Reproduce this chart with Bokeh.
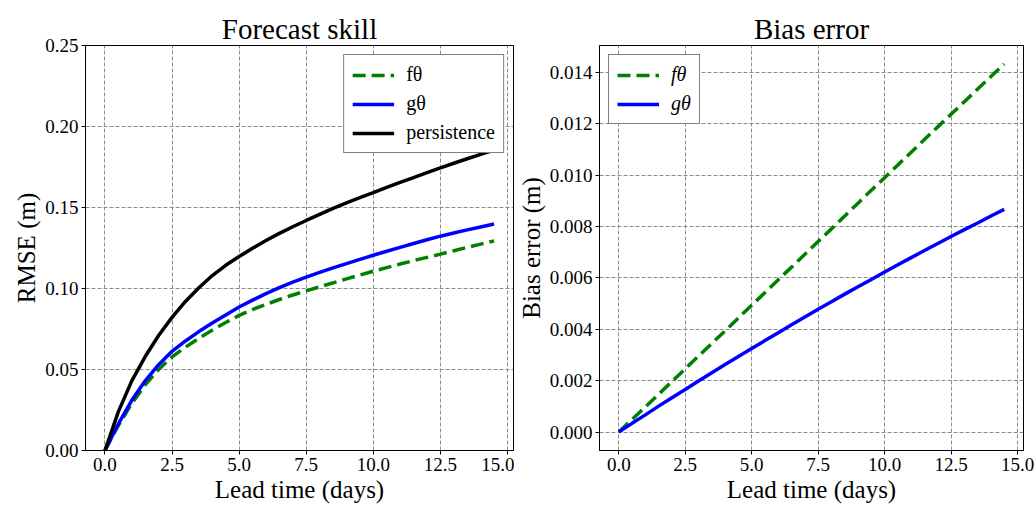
from bokeh.plotting import figure
from bokeh.layouts import row
from bokeh.models import FixedTicker, PrintfTickFormatter, Range1d, Legend, LegendItem
from bokeh.embed import file_html
from bokeh.resources import INLINE

# ---- data ----
lead_time = [0.0, 0.5, 1.0, 1.5, 2.0, 2.5, 3.0, 3.5, 4.0, 4.5,
             5.0, 5.5, 6.0, 6.5, 7.0, 7.5, 8.0, 8.5, 9.0, 9.5,
             10.0, 10.5, 11.0, 11.5, 12.0, 12.5, 13.0, 13.5, 14.0, 14.5]

rmse_f = [0.0, 0.0155, 0.029, 0.0405, 0.0500, 0.0578, 0.0638, 0.0692, 0.0743, 0.0790,
          0.0834, 0.0870, 0.0902, 0.0932, 0.0960, 0.0985, 0.1010, 0.1035, 0.1059, 0.1083,
          0.1107, 0.1129, 0.1151, 0.1172, 0.1192, 0.1212, 0.1233, 0.1254, 0.1274, 0.1294]

rmse_g = [0.0, 0.0165, 0.031, 0.0430, 0.0530, 0.0612, 0.0676, 0.0734, 0.0787, 0.0837,
          0.0886, 0.0928, 0.0968, 0.1005, 0.1039, 0.1070, 0.1099, 0.1127, 0.1154, 0.1180,
          0.1205, 0.1230, 0.1254, 0.1278, 0.1301, 0.1323, 0.1343, 0.1362, 0.1380, 0.1398]

rmse_persistence = [0.0, 0.024, 0.043, 0.0580, 0.0710, 0.0822, 0.0920, 0.1005, 0.1080, 0.1143,
                    0.1197, 0.1248, 0.1296, 0.1340, 0.1381, 0.1420, 0.1458, 0.1495, 0.1529, 0.1561,
                    0.1592, 0.1624, 0.1655, 0.1685, 0.1715, 0.1745, 0.1773, 0.1801, 0.1828, 0.1855]

bias_f = [0.0, 0.00049, 0.00098, 0.00147, 0.00197, 0.00246, 0.00296, 0.00345, 0.00394, 0.00444,
          0.00494, 0.00543, 0.00593, 0.00642, 0.00692, 0.00742, 0.00791, 0.00841, 0.00891, 0.00941,
          0.00990, 0.01040, 0.01089, 0.01139, 0.01188, 0.01237, 0.01286, 0.01335, 0.01384, 0.01433]

bias_g = [0.0, 0.00034, 0.00067, 0.00101, 0.00134, 0.00166, 0.00199, 0.00231, 0.00263, 0.00294,
          0.00325, 0.00356, 0.00387, 0.00418, 0.00448, 0.00478, 0.00507, 0.00537, 0.00566, 0.00594,
          0.00623, 0.00651, 0.00679, 0.00707, 0.00734, 0.00761, 0.00788, 0.00814, 0.00841, 0.00867]

x_ticks = [0.0, 2.5, 5.0, 7.5, 10.0, 12.5, 15.0]
rmse_ticks = [0.0, 0.05, 0.10, 0.15, 0.20, 0.25]
bias_ticks = [0.0, 0.002, 0.004, 0.006, 0.008, 0.010, 0.012, 0.014]

FONT = "Liberation Serif"
GREEN = "#008000"
BLUE = "#0000ff"
BLACK = "#000000"
LW = 3.5


def style(p, yticks, yfmt, ylabel):
    p.title.text_font = FONT
    p.title.text_font_size = "29px"
    p.title.text_font_style = "normal"
    p.title.text_color = "black"
    p.title.align = "center"
    p.title.standoff = 2
    p.outline_line_color = "black"
    p.outline_line_width = 1
    p.xaxis.ticker = FixedTicker(ticks=x_ticks)
    p.yaxis.ticker = FixedTicker(ticks=yticks)
    p.xaxis.formatter = PrintfTickFormatter(format="%.1f")
    p.yaxis.formatter = PrintfTickFormatter(format=yfmt)
    p.xaxis.axis_label = "Lead time (days)"
    p.yaxis.axis_label = ylabel
    for ax in (p.xaxis[0], p.yaxis[0]):
        ax.axis_line_color = "black"
        ax.major_tick_line_color = "black"
        ax.major_tick_out = 4
        ax.major_tick_in = 0
        ax.minor_tick_out = 0
        ax.minor_tick_in = 0
        ax.major_label_text_font = FONT
        ax.major_label_text_font_size = "19px"
        ax.major_label_text_color = "black"
        ax.major_label_standoff = 3
        ax.axis_label_text_font = FONT
        ax.axis_label_text_font_size = "25px"
        ax.axis_label_text_font_style = "normal"
        ax.axis_label_text_color = "black"
        ax.axis_label_standoff = 2
    p.grid.grid_line_color = "#8c8c8c"
    p.grid.grid_line_dash = "4 2"
    p.grid.grid_line_width = 1


def make_legend(items, location, italic=False):
    lg = Legend(items=items, location=location)
    lg.label_text_font = FONT
    lg.label_text_font_size = "20px"
    lg.label_text_color = "black"
    lg.label_text_font_style = "italic" if italic else "normal"
    lg.label_standoff = 12
    lg.glyph_width = 42
    lg.glyph_height = 20
    lg.label_height = 20
    lg.spacing = 6
    lg.padding = 8
    lg.margin = 9
    lg.border_line_color = "black"
    lg.border_line_width = 1
    lg.background_fill_color = "white"
    lg.background_fill_alpha = 1.0
    return lg


# ---- left: forecast skill ----
p1 = figure(width=514, height=506, title="Forecast skill",
            x_range=Range1d(-0.725, 15.225), y_range=Range1d(0.0, 0.25),
            output_backend="svg", toolbar_location=None,
            min_border_left=85, min_border_right=1, min_border_top=45, min_border_bottom=56)
style(p1, rmse_ticks, "%.2f", "RMSE (m)")
r1f = p1.line(lead_time, rmse_f, line_color=GREEN, line_width=LW, line_dash="13 6")
r1g = p1.line(lead_time, rmse_g, line_color=BLUE, line_width=LW)
r1p = p1.line(lead_time, rmse_persistence, line_color=BLACK, line_width=LW)
p1.add_layout(make_legend([LegendItem(label="fθ", renderers=[r1f]),
                           LegendItem(label="gθ", renderers=[r1g]),
                           LegendItem(label="persistence", renderers=[r1p])], "top_right"))

# ---- right: bias error ----
p2 = figure(width=521, height=506, title="Bias error",
            x_range=Range1d(-0.725, 15.225), y_range=Range1d(-0.000717, 0.015047),
            output_backend="svg", toolbar_location=None,
            min_border_left=83, min_border_right=12, min_border_top=45, min_border_bottom=56)
style(p2, bias_ticks, "%.3f", "Bias error (m)")
r2f = p2.line(lead_time, bias_f, line_color=GREEN, line_width=LW, line_dash="13 6")
r2g = p2.line(lead_time, bias_g, line_color=BLUE, line_width=LW)
p2.add_layout(make_legend([LegendItem(label="fθ", renderers=[r2f]),
                           LegendItem(label="gθ", renderers=[r2g])], "top_left", italic=True))

layout = row(p1, p2)
open("out.html", "w").write(file_html(layout, INLINE))
